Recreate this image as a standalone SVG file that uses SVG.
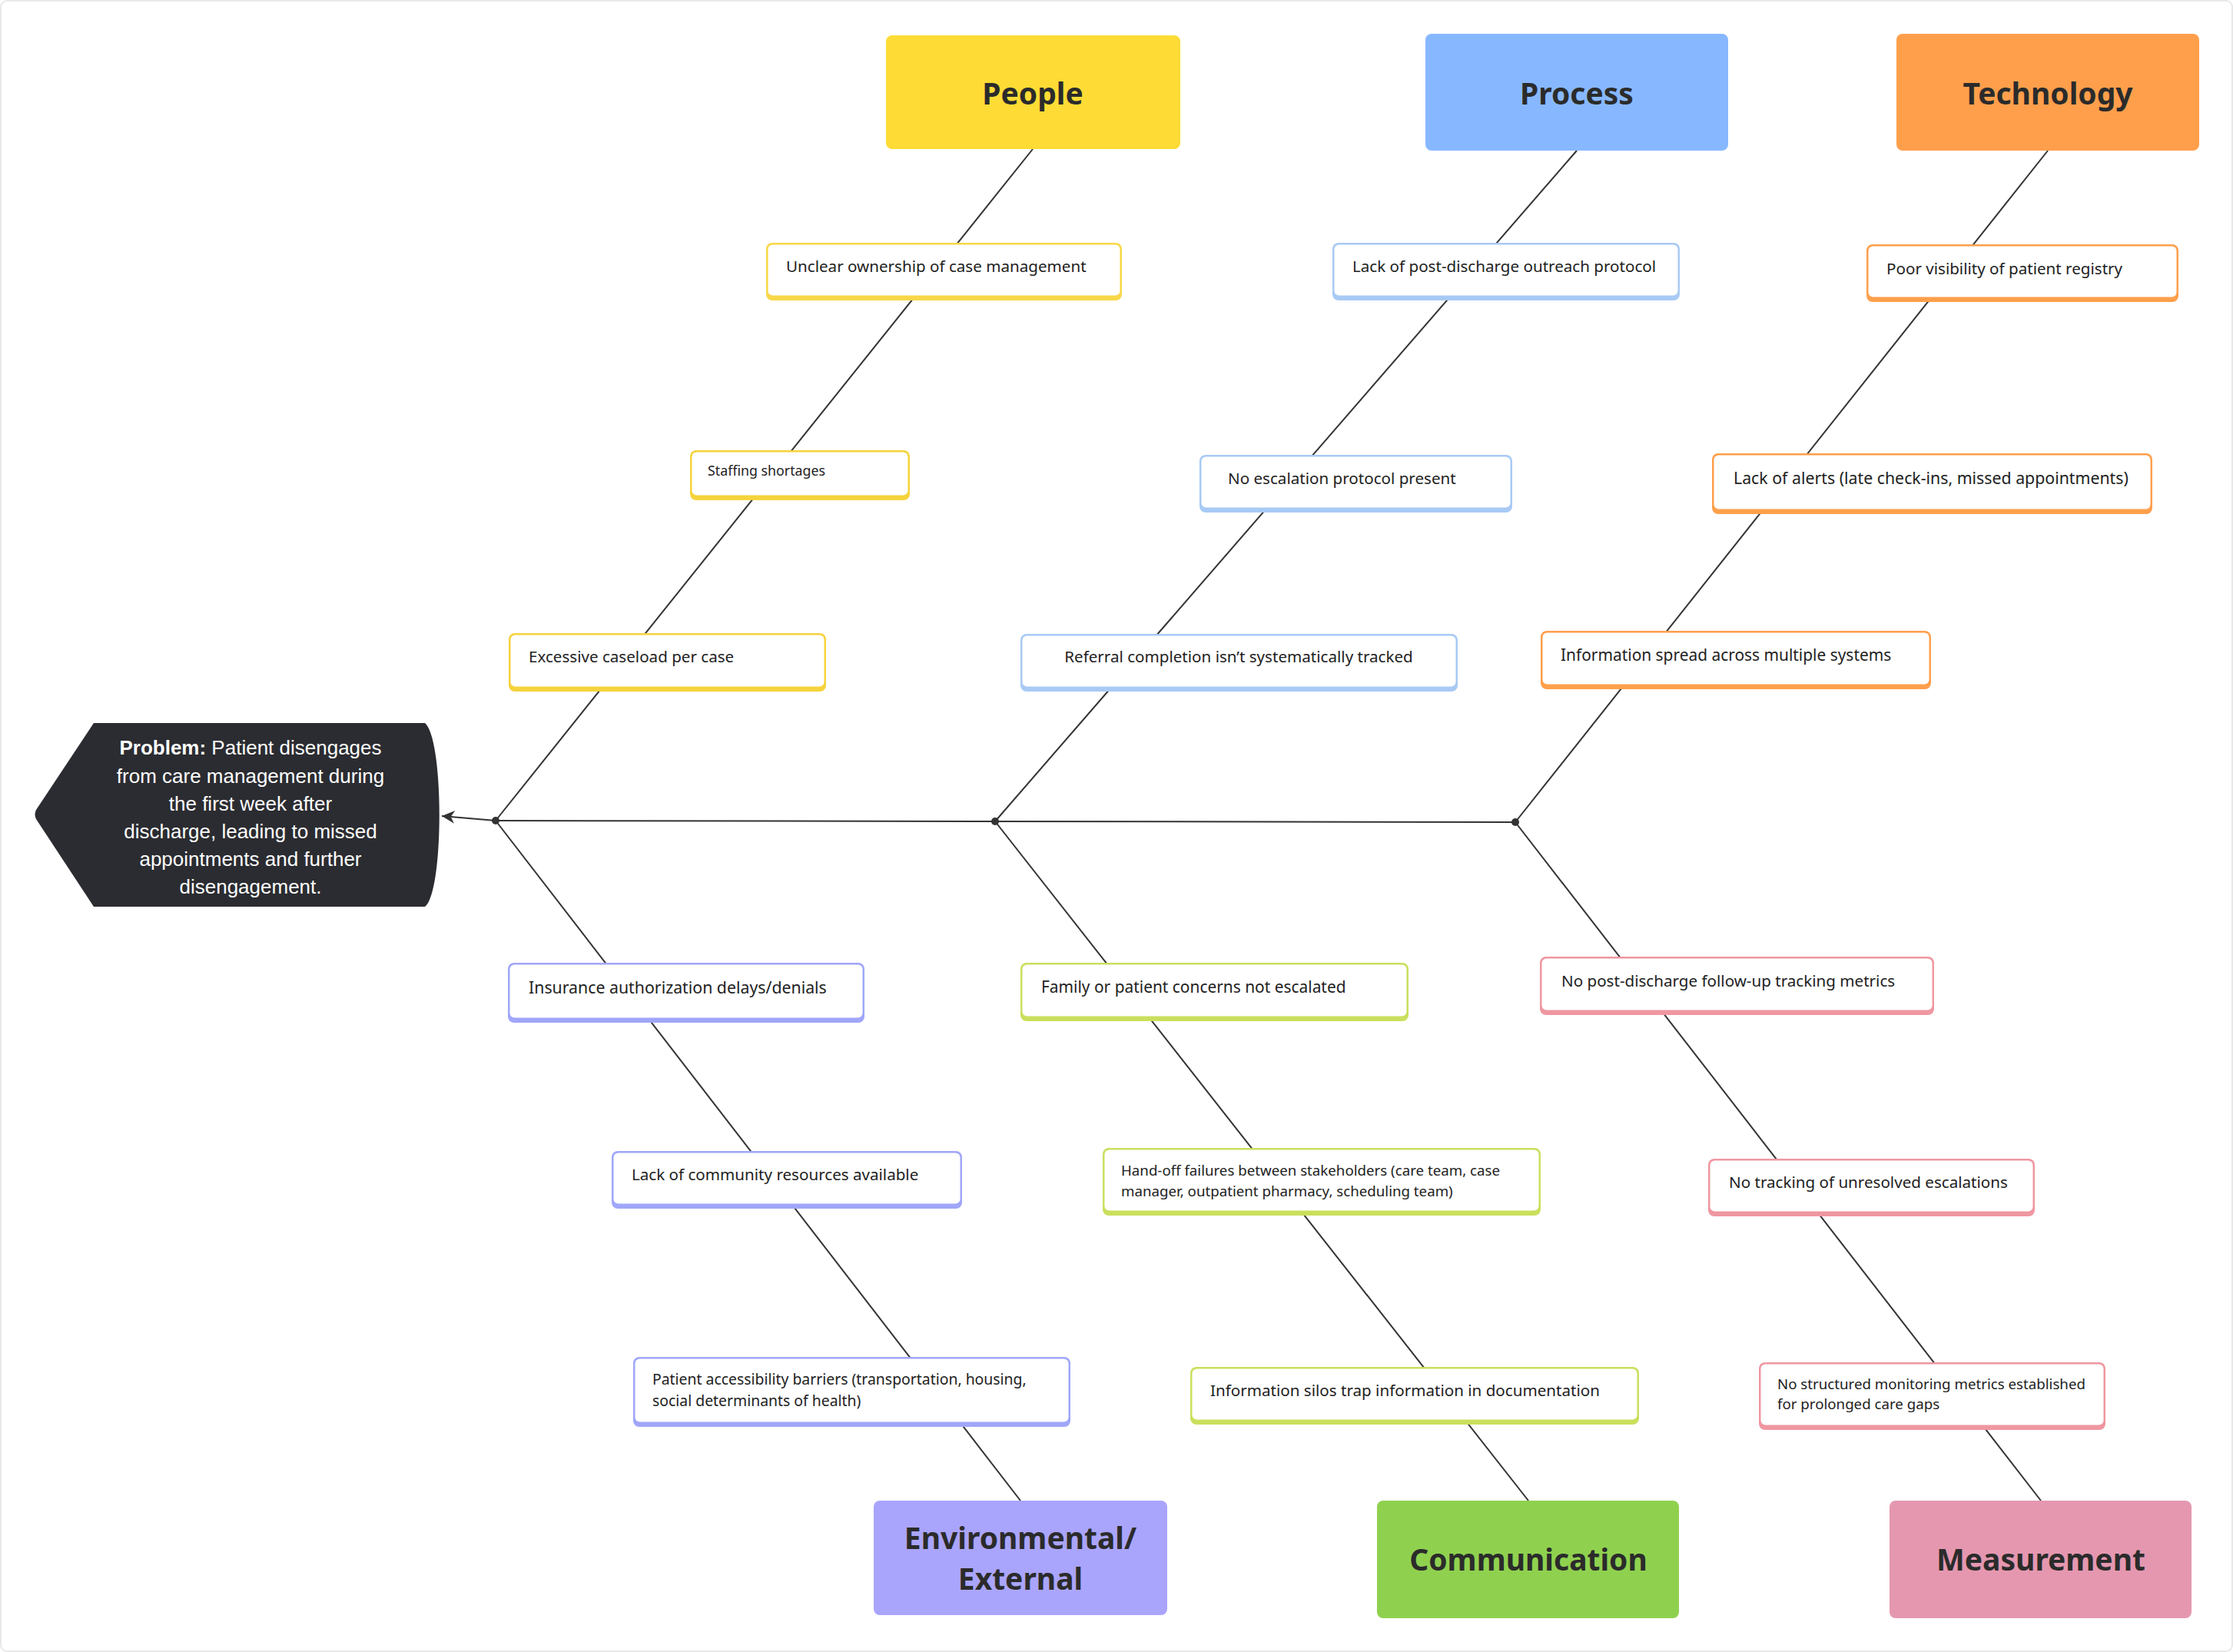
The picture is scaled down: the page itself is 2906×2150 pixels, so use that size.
<svg xmlns="http://www.w3.org/2000/svg" width="2906" height="2150" viewBox="0 0 2906 2150">
<style>
.cat{font-family:"Noto Sans","Open Sans",sans-serif;font-weight:700;font-size:39px;fill:#2b2b2b;text-anchor:middle}
.t{font-family:"Noto Sans","Open Sans",sans-serif;font-size:20.6px;fill:#222}
.ts{font-family:"Noto Sans","Open Sans",sans-serif;font-size:18.5px;fill:#222}
.in{fill:#fff}
.ln{stroke:#333;stroke-width:2;fill:none}
.dot{fill:#333}
.pt{font-family:"Liberation Sans",Arial,sans-serif;font-size:26px;fill:#fff;text-anchor:middle}
</style>
<defs>
<marker id="arr" viewBox="0 0 12 12" refX="11" refY="6" markerWidth="20" markerHeight="20" markerUnits="userSpaceOnUse" orient="auto">
<path d="M1,1 L11,6 L1,11 L4,6 Z" fill="#333"/>
</marker>
</defs>
<rect x="1" y="1" width="2904" height="2148" rx="8" fill="#fff" stroke="#e8e8e8" stroke-width="2"/>

<g id="connectors">
<line class="ln" x1="645" y1="1068" x2="1972" y2="1070"/>
<line class="ln" x1="1344" y1="194" x2="645" y2="1068"/>
<line class="ln" x1="2052" y1="196" x2="1295" y2="1069"/>
<line class="ln" x1="2665" y1="196" x2="1972" y2="1070"/>
<line class="ln" x1="1328" y1="1953" x2="645" y2="1068"/>
<line class="ln" x1="1989" y1="1953" x2="1295" y2="1069"/>
<line class="ln" x1="2656" y1="1953" x2="1972" y2="1070"/>
<line class="ln" x1="645" y1="1068" x2="575" y2="1062" marker-end="url(#arr)"/>
<circle class="dot" cx="645" cy="1068" r="5"/>
<circle class="dot" cx="1295" cy="1069" r="5"/>
<circle class="dot" cx="1972" cy="1070" r="5"/>
</g>

<g id="problem">
<path d="M122,941 L553,941 C578,962 578,1160 553,1180 L122,1180 L47,1066 Q44,1060 47,1054 Z" fill="#2b2c31"/>
<text class="pt" x="326" y="982"><tspan font-weight="700">Problem:</tspan> Patient disengages</text>
<text class="pt" x="326" y="1019">from care management during</text>
<text class="pt" x="326" y="1055">the first week after</text>
<text class="pt" x="326" y="1091">discharge, leading to missed</text>
<text class="pt" x="326" y="1127">appointments and further</text>
<text class="pt" x="326" y="1163">disengagement.</text>
</g>

<g id="cat-people"><rect x="1153" y="46" width="383" height="148" rx="8" fill="#fedc35"/><text class="cat" x="1344" y="136">People</text></g>
<g id="cat-process"><rect x="1855" y="44" width="394" height="152" rx="8" fill="#87b8ff"/><text class="cat" x="2052" y="136">Process</text></g>
<g id="cat-technology"><rect x="2468" y="44" width="394" height="152" rx="8" fill="#ff9f4b"/><text class="cat" x="2665" y="136">Technology</text></g>
<g id="cat-environmental"><rect x="1137" y="1953" width="382" height="149" rx="8" fill="#aaa5fc"/><text class="cat" x="1328" y="2016">Environmental/</text><text class="cat" x="1328" y="2069">External</text></g>
<g id="cat-communication"><rect x="1792" y="1953" width="393" height="153" rx="8" fill="#8fd14f"/><text class="cat" x="1989" y="2044">Communication</text></g>
<g id="cat-measurement"><rect x="2459" y="1953" width="393" height="153" rx="8" fill="#e597b0"/><text class="cat" x="2656" y="2044">Measurement</text></g>

<g id="c1"><rect x="997" y="316" width="463" height="75" rx="8" fill="#f8d747"/><rect class="in" x="999.5" y="318.5" width="458" height="66" rx="6"/><text class="t" x="1023" y="354">Unclear ownership of case management</text></g>
<g id="c2"><rect x="898" y="586" width="286" height="65" rx="8" fill="#f6d33c"/><rect class="in" x="900.5" y="588.5" width="281" height="56" rx="6"/><text class="ts" x="921" y="619" style="font-size:17.8px">Staffing shortages</text></g>
<g id="c3"><rect x="662" y="824" width="413" height="76" rx="8" fill="#f6d33c"/><rect class="in" x="664.5" y="826.5" width="408" height="67" rx="6"/><text class="t" x="688" y="862">Excessive caseload per case</text></g>

<g id="c4"><rect x="1734" y="316" width="452" height="75" rx="8" fill="#a8caf5"/><rect class="in" x="1736.5" y="318.5" width="447" height="66" rx="6"/><text class="t" x="1760" y="354">Lack of post-discharge outreach protocol</text></g>
<g id="c5"><rect x="1561" y="592" width="407" height="75" rx="8" fill="#a8caf5"/><rect class="in" x="1563.5" y="594.5" width="402" height="66" rx="6"/><text class="t" x="1598" y="630">No escalation protocol present</text></g>
<g id="c6"><rect x="1328" y="825" width="569" height="75" rx="8" fill="#a8caf5"/><rect class="in" x="1330.5" y="827.5" width="564" height="66" rx="6"/><text class="t" x="1612" y="862" text-anchor="middle">Referral completion isn’t systematically tracked</text></g>

<g id="c7"><rect x="2429" y="318" width="406" height="75" rx="8" fill="#ff9f4b"/><rect class="in" x="2431.5" y="320.5" width="401" height="66" rx="6"/><text class="t" x="2455" y="357">Poor visibility of patient registry</text></g>
<g id="c8"><rect x="2228" y="590" width="573" height="79" rx="8" fill="#ff9f4b"/><rect class="in" x="2230.5" y="592.5" width="568" height="70" rx="6"/><text class="t" x="2256" y="630" style="font-size:21.3px">Lack of alerts (late check-ins, missed appointments)</text></g>
<g id="c9"><rect x="2005" y="821" width="508" height="76" rx="8" fill="#ff9f4b"/><rect class="in" x="2007.5" y="823.5" width="503" height="67" rx="6"/><text class="t" x="2031" y="860" style="font-size:20.9px">Information spread across multiple systems</text></g>

<g id="c10"><rect x="661" y="1253" width="464" height="78" rx="8" fill="#a0a6f9"/><rect class="in" x="663.5" y="1255.5" width="459" height="69" rx="6"/><text class="t" x="688" y="1293" style="font-size:21.3px">Insurance authorization delays/denials</text></g>
<g id="c11"><rect x="796" y="1498" width="456" height="75" rx="8" fill="#a0a6f9"/><rect class="in" x="798.5" y="1500.5" width="451" height="66" rx="6"/><text class="t" x="822" y="1536">Lack of community resources available</text></g>
<g id="c12"><rect x="824" y="1766" width="569" height="91" rx="8" fill="#a0a6f9"/><rect class="in" x="826.5" y="1768.5" width="564" height="82" rx="6"/><text class="ts" x="849" y="1802" style="font-size:19.4px">Patient accessibility barriers (transportation, housing,</text><text class="ts" x="849" y="1830" style="font-size:19.4px">social determinants of health)</text></g>

<g id="c13"><rect x="1328" y="1253" width="505" height="76" rx="8" fill="#cadf5c"/><rect class="in" x="1330.5" y="1255.5" width="500" height="67" rx="6"/><text class="t" x="1355" y="1292" style="font-size:20.9px">Family or patient concerns not escalated</text></g>
<g id="c14"><rect x="1435" y="1494" width="570" height="88" rx="8" fill="#cadf5c"/><rect class="in" x="1437.5" y="1496.5" width="565" height="79" rx="6"/><text class="ts" x="1459" y="1530" style="font-size:18.7px">Hand-off failures between stakeholders (care team, case</text><text class="ts" x="1459" y="1557" style="font-size:18.7px">manager, outpatient pharmacy, scheduling team)</text></g>
<g id="c15"><rect x="1549" y="1779" width="584" height="75" rx="8" fill="#cadf5c"/><rect class="in" x="1551.5" y="1781.5" width="579" height="66" rx="6"/><text class="t" x="1575" y="1817">Information silos trap information in documentation</text></g>

<g id="c16"><rect x="2004" y="1245" width="513" height="76" rx="8" fill="#ef97a1"/><rect class="in" x="2006.5" y="1247.5" width="508" height="67" rx="6"/><text class="t" x="2032" y="1284">No post-discharge follow-up tracking metrics</text></g>
<g id="c17"><rect x="2223" y="1508" width="425" height="75" rx="8" fill="#ef97a1"/><rect class="in" x="2225.5" y="1510.5" width="420" height="66" rx="6"/><text class="t" x="2250" y="1546">No tracking of unresolved escalations</text></g>
<g id="c18"><rect x="2289" y="1773" width="451" height="88" rx="8" fill="#ef97a1"/><rect class="in" x="2291.5" y="1775.5" width="446" height="79" rx="6"/><text class="ts" x="2313" y="1808" style="font-size:18.7px">No structured monitoring metrics established</text><text class="ts" x="2313" y="1834" style="font-size:18.7px">for prolonged care gaps</text></g>
</svg>
